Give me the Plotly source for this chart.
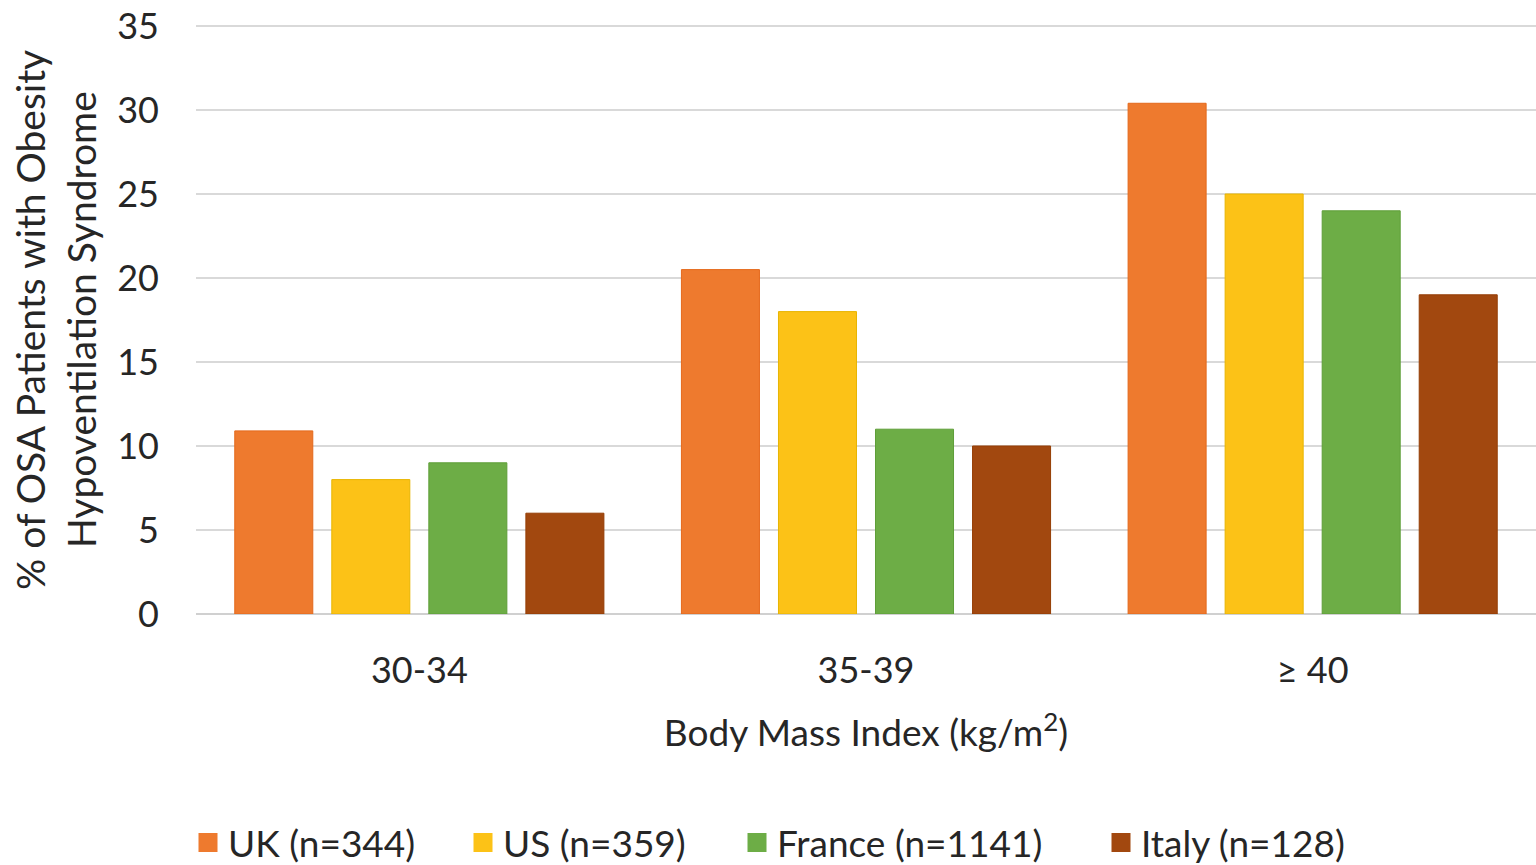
import plotly.graph_objects as go

# BMI categories and share of OSA patients with obesity hypoventilation syndrome (%)
bmi_groups = ["30-34", "35-39", "≥ 40"]
series_names = ["UK (n=344)", "US (n=359)", "France (n=1141)", "Italy (n=128)"]
uk_values = [10.9, 20.5, 30.4]
us_values = [8, 18, 25]
france_values = [9, 11, 24]
italy_values = [6, 10, 19]
y_ticks = [0, 5, 10, 15, 20, 25, 30, 35]

series_values = [uk_values, us_values, france_values, italy_values]
colors = ["#EE7A2E", "#FCC217", "#6DAD46", "#A2480F"]
line_colors = ["#E4691C", "#E8B500", "#5E9E38", "#953D05"]

FONT = "Lato, 'Open Sans', sans-serif"
TXT = "#262626"

# Plot area: y=0 sits at 614 px, y=35 at 26 px; a little headroom keeps the top gridline
L, R, T, B = 196, 0, 24, 251
PW, PH = 1536 - L - R, 865 - T - B
px_per_unit = (614 - 26) / 35
y_top = 35 + (26 - T) / px_per_unit

fig = go.Figure()
for name, vals, c, lc in zip(series_names, series_values, colors, line_colors):
    fig.add_trace(go.Bar(
        x=bmi_groups, y=vals, name=name, showlegend=False,
        marker=dict(color=c, line=dict(color=lc, width=1)),
    ))

# One legend per series so each entry sits at its own horizontal position
legend_centres = [208, 483, 757, 1121]
legend_ids = ["legend", "legend2", "legend3", "legend4"]
legend_layout = {}
for name, c, lid, cx in zip(series_names, colors, legend_ids, legend_centres):
    fig.add_trace(go.Scatter(
        x=[None], y=[None], mode="markers", name=name, legend=lid,
        marker=dict(symbol="square", size=16, color=c, line=dict(color=c, width=3)),
    ))
    legend_layout[lid] = dict(
        x=(cx - 20 - L) / PW, xanchor="left",
        y=(865 - B - 843) / PH, yanchor="middle",
        orientation="h", bgcolor="rgba(0,0,0,0)",
        font=dict(family=FONT, size=37, color=TXT),
        itemsizing="trace",
    )

fig.update_layout(
    width=1536, height=865,
    paper_bgcolor="white", plot_bgcolor="white",
    margin=dict(l=L, r=R, t=T, b=B, autoexpand=False),
    barmode="group", bargap=0.131, bargroupgap=0.196,
    font=dict(family=FONT, size=36, color=TXT),
    showlegend=True,
    xaxis=dict(
        automargin=False,
        showgrid=False, showline=False, ticks="",
        tickfont=dict(family=FONT, size=36, color=TXT),
        ticklabelstandoff=32,
        title=dict(text="Body Mass Index (kg/m<sup>2</sup>)",
                   font=dict(family=FONT, size=37, color=TXT), standoff=30),
    ),
    yaxis=dict(
        automargin=False,
        range=[0, y_top], tickvals=y_ticks,
        showgrid=True, gridcolor="#D9D9D9", gridwidth=1.5,
        zeroline=True, zerolinecolor="#D0D0D0", zerolinewidth=2,
        showline=False, ticks="",
        tickfont=dict(family=FONT, size=36, color=TXT),
        ticklabelstandoff=36,
    ),
    **legend_layout,
)

# Two-line vertical axis title
title_lines = ["% of OSA Patients with Obesity", "Hypoventilation Syndrome"]
for line, xpx in zip(title_lines, [30, 81]):
    fig.add_annotation(
        text=line, textangle=-90, showarrow=False,
        xref="paper", yref="paper",
        x=(xpx - L) / PW, y=(865 - B - 320) / PH, xanchor="center", yanchor="middle",
        font=dict(family=FONT, size=39, color=TXT),
    )

fig.write_html("out.html")
